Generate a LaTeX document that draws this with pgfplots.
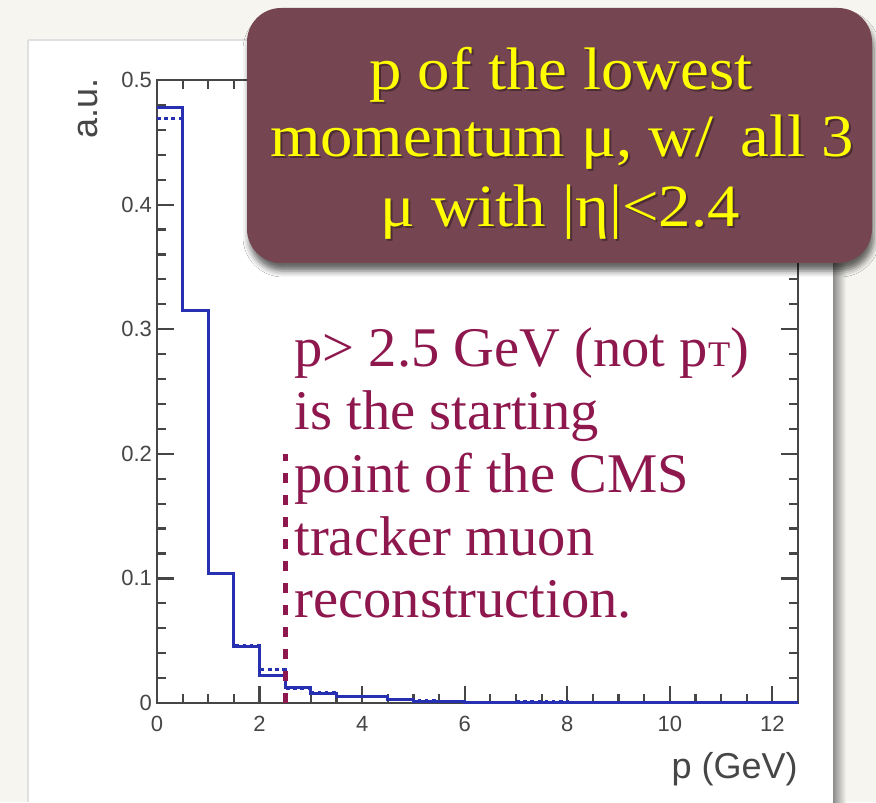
\documentclass[border=0pt]{standalone}
\usepackage{fontspec}
\setmainfont{Liberation Serif}
\newfontfamily\helv{Liberation Sans}
\usepackage{pgfplots}
\pgfplotsset{compat=1.18}
\usetikzlibrary{shadows.blur}

\definecolor{slidebg}{RGB}{246,245,240}
\definecolor{axgray}{RGB}{70,70,70}
\definecolor{histblue}{RGB}{40,48,178}
\definecolor{cutred}{RGB}{142,24,78}
\definecolor{boxcol}{RGB}{117,70,82}
\definecolor{boxtext}{RGB}{255,255,0}

% momentum of the softest muon, bins of 0.5 GeV (left edge, height)
\pgfplotstableread{
x     y
0.0   0.478
0.5   0.315
1.0   0.104
1.5   0.045
2.0   0.0217
2.5   0.0128
3.0   0.008
3.5   0.005
4.0   0.005
4.5   0.0025
5.0   0.0012
5.5   0.0010
6.0   0.0008
6.5   0.0007
7.0   0.0005
7.5   0.0004
8.0   0.0003
8.5   0.0003
9.0   0.0002
9.5   0.0002
10.0  0.0002
10.5  0.0001
11.0  0.0001
11.5  0.0001
12.0  0.0001
12.5  0.0001
}\solidhist
\pgfplotstableread{
x     y
0.0   0.469
0.5   0.315
1.0   0.104
1.5   0.0465
2.0   0.0265
2.5   0.012
3.0   0.0085
3.5   0.005
4.0   0.005
4.5   0.0028
5.0   0.0020
5.5   0.0010
6.0   0.0008
6.5   0.0007
7.0   0.0012
7.5   0.0010
8.0   0.0003
8.5   0.0003
9.0   0.0002
9.5   0.0002
10.0  0.0002
10.5  0.0001
11.0  0.0001
11.5  0.0001
12.0  0.0001
12.5  0.0001
}\dottedhist

\begin{document}
\begin{tikzpicture}
% slide and white panel
\fill[slidebg] (0,0) rectangle (438pt,401pt);
\shade[left color=black!45, right color=slidebg] (416.5pt,0) rectangle (423pt,381pt);
\fill[white] (14pt,0) rectangle (416.5pt,381pt);
\draw[black!12, line width=0.6pt] (14pt,381pt) -- (416.5pt,381pt);
\draw[black!12, line width=0.6pt] (14pt,0) -- (14pt,381pt);

\begin{axis}[
  at={(78.5pt,49.5pt)}, anchor=south west,
  scale only axis, width=320.5pt, height=311.5pt,
  xmin=0, xmax=12.5, ymin=0, ymax=0.5,
  xtick={0,2,4,6,8,10,12},
  ytick={0,0.1,0.2,0.3,0.4,0.5},
  yticklabels={0,0.1,0.2,0.3,0.4,0.5},
  minor x tick num=3, minor y tick num=4,
  tick align=inside, tick pos=both,
  major tick length=8.5pt, minor tick length=4.5pt,
  axis line style={draw=axgray, line width=1.1pt},
  every tick/.style={draw=axgray, line width=1.1pt},
  ticklabel style={font=\helv\fontsize{11}{11}\selectfont, text=axgray},
  /pgf/number format/assume math mode=true,
  xticklabel style={yshift=-3pt},
  yticklabel style={xshift=1pt},
  clip=false,
]
\addplot[const plot, histblue, line width=1.5pt] table[x=x,y=y] {\solidhist};
\addplot[const plot, histblue, line width=1.5pt, dash pattern=on 1.8pt off 1.8pt] table[x=x,y=y] {\dottedhist};
% threshold of tracker muon reconstruction
\addplot[cutred, line width=2.5pt, dash pattern=on 5pt off 6pt] coordinates {(2.5,0) (2.5,0.2)};
\end{axis}

\begin{scope}[shift={(0,401pt)}, x=0.5pt, y=-0.5pt]
% axis titles
\node[rotate=90, anchor=east, inner sep=0pt, text=axgray,
      font=\helv\fontsize{18}{18}\selectfont] at (88,78) {a.u.};
\node[anchor=base east, inner sep=0pt, text=axgray,
      font=\helv\fontsize{18}{18}\selectfont] at (798,778) {p (GeV)};

% annotation on the cut
\begin{scope}[every node/.style={anchor=base west, inner sep=0pt, text=cutred,
      font=\fontsize{28}{28}\selectfont, xscale=1.01}]
\node at (294,367) {p> 2.5 GeV (not p{\fontsize{18}{18}\selectfont T})};
\node at (294,430) {is the starting};
\node at (294,493) {point of the CMS};
\node at (294,555) {tracker muon};
\node at (294,617) {reconstruction.};
\end{scope}

% title box
\fill[boxcol, rounded corners=17pt,
      blur shadow={shadow xshift=1pt, shadow yshift=-4pt, shadow blur radius=3pt, shadow opacity=60}]
  (247,8) rectangle (872,263);
\begin{scope}[every node/.style={anchor=base, inner sep=0pt, xscale=1.08,
      font=\fontsize{30}{30}\selectfont}]
\foreach \dx/\dy/\c/\o in {2/2/black/0.35, 0/0/boxtext/1} {
  \node[text=\c, text opacity=\o] at (561+\dx,90+\dy) {p of the lowest};
  \node[text=\c, text opacity=\o] at (562+\dx,157+\dy) {momentum μ, w/ \,all 3};
  \node[text=\c, text opacity=\o] at (560+\dx,227+\dy) {μ with |η|<2.4};
}
\end{scope}
\end{scope}
\end{tikzpicture}
\end{document}
